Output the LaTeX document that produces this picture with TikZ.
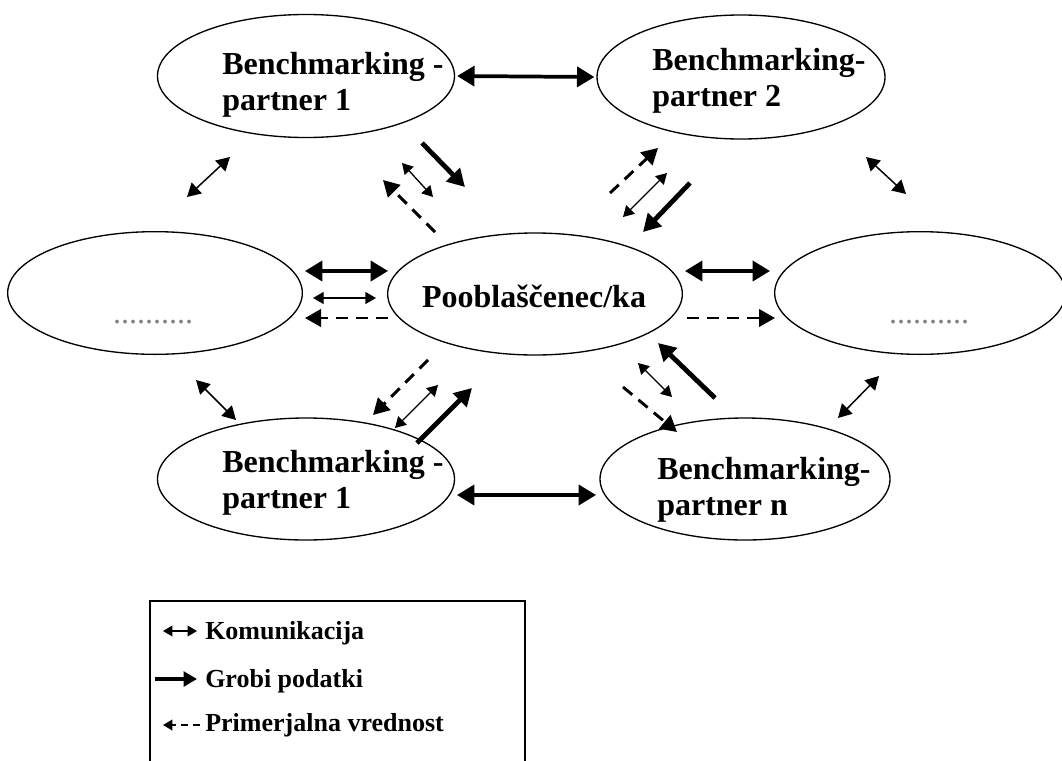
\documentclass[tikz,border=0pt]{standalone}
\usepackage{fontspec}
\setmainfont{Liberation Serif}
\usetikzlibrary{arrows.meta,shapes.geometric}

\begin{document}
\begin{tikzpicture}[x=0.75pt,y=-0.75pt,
  party/.style={draw,ellipse,line width=1pt,inner sep=0pt},
  lbl/.style={font=\fontsize{24}{27}\selectfont\bfseries,align=left,anchor=west,inner sep=0pt},
  dots/.style={font=\fontsize{24}{27}\selectfont,text=black!50,inner sep=0pt},
  legtext/.style={font=\fontsize{19.5}{22}\selectfont\bfseries,anchor=west,inner sep=0pt},
  comm/.style={line width=1.1pt,{Triangle[length=10pt,width=11pt]}-{Triangle[length=10pt,width=11pt]}},
  commsmall/.style={line width=1pt,{Triangle[length=8pt,width=9pt]}-{Triangle[length=8pt,width=9pt]}},
  raw/.style={line width=3.6pt,-{Triangle[length=13pt,width=14pt]}},
  rawboth/.style={line width=2.8pt,{Triangle[length=13pt,width=15pt]}-{Triangle[length=13pt,width=15pt]}},
  bench/.style={line width=2.2pt,dash pattern=on 9pt off 6pt,-{Triangle[length=12pt,width=13pt]}},
]
\useasboundingbox (0,0) rectangle (1062,760);

% participants
\node[party,minimum width=222.75pt,minimum height=92.25pt] (tl) at (306,76) {};
\node[party,minimum width=216pt,minimum height=93pt]       (tr) at (741,77) {};
\node[party,minimum width=221pt,minimum height=92pt]       (lf) at (155,293) {};
\node[party,minimum width=221pt,minimum height=91.5pt]     (ct) at (535,294) {};
\node[party,minimum width=218pt,minimum height=92pt]       (rt) at (920,293) {};
\node[party,minimum width=222.75pt,minimum height=91.5pt]  (bl) at (306,479) {};
\node[party,minimum width=217.5pt,minimum height=91.5pt]   (br) at (745,479) {};

% labels
\node[lbl] (tltxt) at (222,85)  {Benchmarking -\\partner 1};
\node[lbl] (trtxt) at (652,81)  {Benchmarking-\\partner 2};
\node[lbl] (bltxt) at (222,483) {Benchmarking -\\partner 1};
\node[lbl] (brtxt) at (657,490) {Benchmarking-\\partner n};
\node[font=\fontsize{24}{27}\selectfont\bfseries,inner sep=0pt] (cttxt) at (534,296) {Pooblaščenec/ka};
\node[dots] (lfdots) at (153,322) {..........};
\node[dots] (rtdots) at (929,322) {..........};

% partner to partner
\draw[rawboth] ([xshift=1.5pt]tl.east) -- ([xshift=-1.5pt]tr.west);
\draw[rawboth] (457,495) -- (596,495);

% neighbours on the sides
\draw[comm] (187,197) -- (230,157);
\draw[comm] (866,157) -- (906,194);
\draw[comm] (196,380) -- (236,420);
\draw[comm] (879,376) -- (838,418);

% left partner and centre
\draw[rawboth] (305,271) -- (388,271);
\draw[commsmall] (313,298) -- (376,298);
\draw[bench] (388,318) -- (305,318);

% centre and right partner
\draw[rawboth] (685,271) -- (770,271);
\draw[bench] (687,318) -- (775,318);

% top-left partner and centre
\draw[raw] (422,143) -- (465,187);
\draw[commsmall] (402,163) -- (433,197);
\draw[bench] (435,232) -- (383,180);

% top-right partner and centre
\draw[bench] (610,193) -- (658,148);
\draw[commsmall] (623,217) -- (667,173);
\draw[raw] (690,183) -- (643,232);

% bottom-left partner and centre
\draw[bench] (428,360) -- (373,415);
\draw[commsmall] (438,385) -- (395,428);
\draw[raw] (417,443) -- (472,388);

% centre and bottom-right partner
\draw[raw] (715,398) -- (658,343);
\draw[commsmall] (638,363) -- (672,397);
\draw[bench] (623,387) -- (677,432);

% legend
\draw[line width=1.4pt] (150,770) -- (150,601) -- (525,601) -- (525,770);
\draw[line width=1pt,{Triangle[length=7pt,width=8pt]}-{Triangle[length=7pt,width=8pt]}] (163,631) -- (197,631);
\node[legtext] (k1) at (205,633) {Komunikacija};
\draw[line width=2.6pt,-{Triangle[length=10pt,width=11pt]}] (155,679) -- (197,679);
\node[legtext] (k2) at (205,681) {Grobi podatki};
\draw[line width=1.2pt,dash pattern=on 5pt off 4pt,-{Triangle[length=7pt,width=8pt]}] (200,725) -- (163,725);
\node[legtext] (k3) at (205,725) {Primerjalna vrednost};
\end{tikzpicture}
\end{document}
